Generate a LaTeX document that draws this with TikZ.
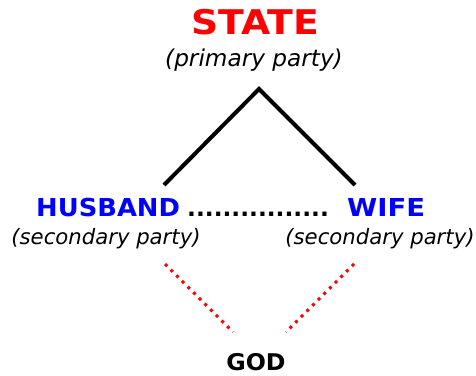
\documentclass[tikz,border=0pt]{standalone}
\usepackage{fontspec}
\setmainfont{DejaVu Sans}
\definecolor{sred}{RGB}{255,0,0}
\definecolor{sblue}{RGB}{0,0,255}
\tikzset{
  txt/.style={inner sep=0pt, anchor=base},
  title/.style={txt, font=\bfseries\fontsize{34}{40}\selectfont, text=sred},
  party/.style={txt, font=\bfseries\fontsize{24.7}{30}\selectfont, text=sblue},
  sub/.style={txt, font=\itshape\fontsize{21.2}{26}\selectfont},
  godtxt/.style={txt, font=\bfseries\fontsize{23}{28}\selectfont},
  solidline/.style={line width=4pt, black},
  dotline/.style={line width=3pt, sred, dash pattern=on 3pt off 5pt},
}
\begin{document}
\begin{tikzpicture}[x=1pt,y=-1pt]
\useasboundingbox (0,0) rectangle (476,375);
\node[title] (state) at (255,34) {\scalebox{1.11}[1]{STATE}};
\node[sub, font=\itshape\fontsize{23.2}{28}\selectfont] (primary) at (254,66) {(primary party)};
\node[party, anchor=base west] (husband) at (36,216) {\scalebox{1.045}[1]{HUSBAND}};
\node[txt, anchor=base west, font=\bfseries\fontsize{23.3}{28}\selectfont] (dots) at (187,216) {................};
\node[party, anchor=base west] (wife) at (347,216) {\scalebox{1.11}[1]{WIFE}};
\node[sub] (sec1) at (106,244) {(secondary party)};
\node[sub] (sec2) at (380,244) {(secondary party)};
\node[godtxt] (god) at (256,370) {\scalebox{1.03}[1]{GOD}};
\coordinate (apex) at (259,89);
\coordinate (hl) at (164,185);
\coordinate (wr) at (355,185);
\coordinate (h1) at (165,264);
\coordinate (g1) at (233,332);
\coordinate (w1) at (354,264);
\coordinate (g2) at (286,332);
\draw[solidline] (hl) -- (apex) -- (wr);
\draw[dotline] (h1) -- (g1);
\draw[dotline] (w1) -- (g2);
\end{tikzpicture}
\end{document}
